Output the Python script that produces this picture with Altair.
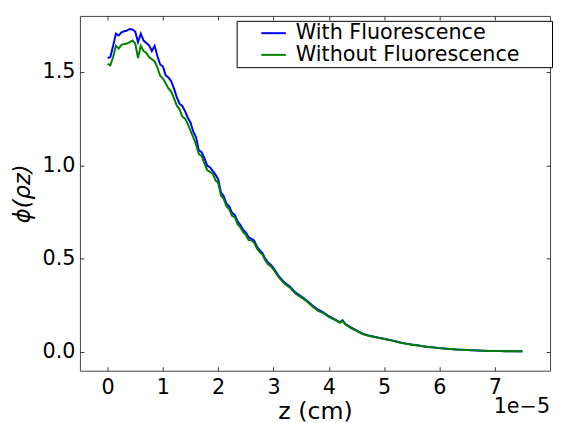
import altair as alt
import pandas as pd

# z in units of 1e-5 cm
z = [0.00, 0.05, 0.10, 0.15, 0.20, 0.25, 0.30, 0.35, 0.40, 0.45,
     0.50, 0.55, 0.60, 0.65, 0.70, 0.75, 0.80, 0.85, 0.90, 0.95,
     1.00, 1.05, 1.10, 1.15, 1.20, 1.25, 1.30, 1.35, 1.40, 1.45,
     1.50, 1.55, 1.60, 1.65, 1.70, 1.75, 1.80, 1.85, 1.90, 1.95,
     2.00, 2.05, 2.10, 2.15, 2.20, 2.25, 2.30, 2.35, 2.40, 2.45,
     2.50, 2.55, 2.60, 2.65, 2.70, 2.75, 2.80, 2.85, 2.90, 2.95,
     3.00,
     3.1, 3.2, 3.3, 3.4, 3.5, 3.6, 3.7, 3.8, 3.9, 4.0, 4.1, 4.2,
     4.25,
     4.3, 4.4, 4.5, 4.6, 4.7, 4.8, 4.9, 5.0, 5.1, 5.2,
     5.3, 5.4, 5.5, 5.6, 5.7, 5.8, 5.9, 6.0, 6.1, 6.2,
     6.3, 6.4, 6.5, 6.6, 6.7, 6.8, 6.9, 7.0, 7.1, 7.2,
     7.3, 7.4, 7.5]

with_fl = [1.575, 1.580, 1.640, 1.705, 1.695, 1.712, 1.718, 1.722, 1.730, 1.728,
           1.715, 1.660, 1.705, 1.668, 1.655, 1.642, 1.612, 1.640, 1.585, 1.540,
           1.530, 1.482, 1.470, 1.450, 1.412, 1.365, 1.330, 1.318, 1.290, 1.255,
           1.228, 1.180, 1.150, 1.080, 1.070, 1.040, 0.998, 0.990, 0.970, 0.950,
           0.925, 0.855, 0.835, 0.795, 0.780, 0.745, 0.735, 0.700, 0.680, 0.655,
           0.640, 0.615, 0.606, 0.598, 0.565, 0.545, 0.530, 0.500, 0.480, 0.468,
           0.450,
           0.405, 0.372, 0.350, 0.318, 0.298, 0.276, 0.250, 0.228, 0.212, 0.192, 0.176, 0.160,
           0.170,
           0.150, 0.132, 0.116, 0.100, 0.090, 0.083, 0.077, 0.071, 0.065, 0.058,
           0.051, 0.045, 0.040, 0.036, 0.031, 0.027, 0.025, 0.021, 0.019, 0.016,
           0.014, 0.013, 0.011, 0.010, 0.008, 0.007, 0.006, 0.006, 0.005, 0.004,
           0.005, 0.004, 0.004]

without_fl = [1.543, 1.535, 1.580, 1.640, 1.625, 1.645, 1.650, 1.652, 1.660, 1.668,
              1.652, 1.575, 1.640, 1.612, 1.602, 1.580, 1.568, 1.556, 1.525, 1.480,
              1.465, 1.440, 1.412, 1.395, 1.360, 1.320, 1.300, 1.262, 1.250, 1.222,
              1.185, 1.150, 1.110, 1.060, 1.050, 1.010, 0.975, 0.965, 0.955, 0.920,
              0.905, 0.838, 0.820, 0.780, 0.765, 0.730, 0.722, 0.685, 0.668, 0.642,
              0.628, 0.600, 0.598, 0.585, 0.555, 0.535, 0.522, 0.492, 0.470, 0.460,
              0.442,
              0.398, 0.366, 0.344, 0.312, 0.293, 0.272, 0.245, 0.222, 0.208, 0.188, 0.173, 0.157,
              0.167,
              0.147, 0.128, 0.114, 0.098, 0.088, 0.082, 0.076, 0.070, 0.064, 0.057,
              0.050, 0.044, 0.039, 0.035, 0.031, 0.027, 0.024, 0.021, 0.018, 0.016,
              0.014, 0.012, 0.011, 0.009, 0.008, 0.007, 0.006, 0.005, 0.005, 0.004,
              0.004, 0.004, 0.003]

series_names = ["With Fluorescence", "Without Fluorescence"]
series_colors = ["#0000ff", "#008000"]
x_ticks = [0, 1, 2, 3, 4, 5, 6, 7]
y_ticks = [0.0, 0.5, 1.0, 1.5]
offset_label = ["1e\u22125"]

df = pd.concat([
    pd.DataFrame({"z": z, "phi": with_fl, "series": series_names[0]}),
    pd.DataFrame({"z": z, "phi": without_fl, "series": series_names[1]}),
], ignore_index=True)

FONT = "DejaVu Sans"
FS = 21
W, H = 477, 360
xscale = alt.Scale(domain=[-0.5, 8], nice=False, zero=False)
yscale = alt.Scale(domain=[-0.1, 1.8], nice=False, zero=False)

tick_axis = dict(offset=-4, tickSize=4, domain=False, grid=False,
                 tickColor="#333333", tickWidth=1,
                 labelFont=FONT, labelFontSize=FS, labelColor="black")
title_axis = dict(titleFont=FONT, titleColor="black", titleFontWeight="normal")

lines = alt.Chart(df).mark_line(strokeWidth=2).encode(
    x=alt.X("z:Q", scale=xscale,
            axis=alt.Axis(orient="bottom", values=x_ticks, format="d",
                          labelPadding=6, title="z (cm)", titleFontSize=24,
                          titlePadding=2, **tick_axis, **title_axis)),
    y=alt.Y("phi:Q", scale=yscale,
            axis=alt.Axis(orient="left", values=y_ticks, format=".1f",
                          labelPadding=5, title="\u03d5(\u03c1z)", titleFontSize=23,
                          titleFontStyle="italic", titlePadding=8,
                          **tick_axis, **title_axis)),
    color=alt.Color("series:N",
                    scale=alt.Scale(domain=series_names, range=series_colors),
                    legend=alt.Legend(title=None, orient="none",
                                      legendX=159, legendY=5,
                                      symbolType="M-4,0H4", symbolSize=39,
                                      symbolStrokeWidth=2, labelFont=FONT,
                                      labelFontSize=FS, labelColor="black",
                                      labelLimit=0, labelOffset=12,
                                      labelExpr="datum.label + '\u2800\u2800'",
                                      symbolOffset=25,
                                      strokeColor="black", fillColor="white",
                                      padding=2, rowPadding=0, cornerRadius=0)),
)

frame = alt.Chart(df).mark_point(opacity=0).encode(
    x=alt.X("z:Q", scale=xscale,
            axis=alt.Axis(orient="top", values=x_ticks, labels=False, title=None,
                          **tick_axis)),
    y=alt.Y("phi:Q", scale=yscale,
            axis=alt.Axis(orient="right", values=y_ticks, labels=False, title=None,
                          **tick_axis)),
)

offset_text = alt.Chart(pd.DataFrame({"t": offset_label})).mark_text(
    align="right", baseline="top", fontSize=FS, font=FONT, color="black"
).encode(x=alt.value(477), y=alt.value(386), text="t:N")

chart = alt.layer(lines, frame, offset_text).resolve_axis(
    x="independent", y="independent"
).properties(
    width=W, height=H,
    autosize=alt.AutoSizeParams(type="none"),
    padding={"left": 73, "top": 5, "right": 3, "bottom": 50},
).configure_view(stroke="#444444", strokeWidth=1)

chart.save("out.html", embed_options={"renderer": "svg", "actions": False})
